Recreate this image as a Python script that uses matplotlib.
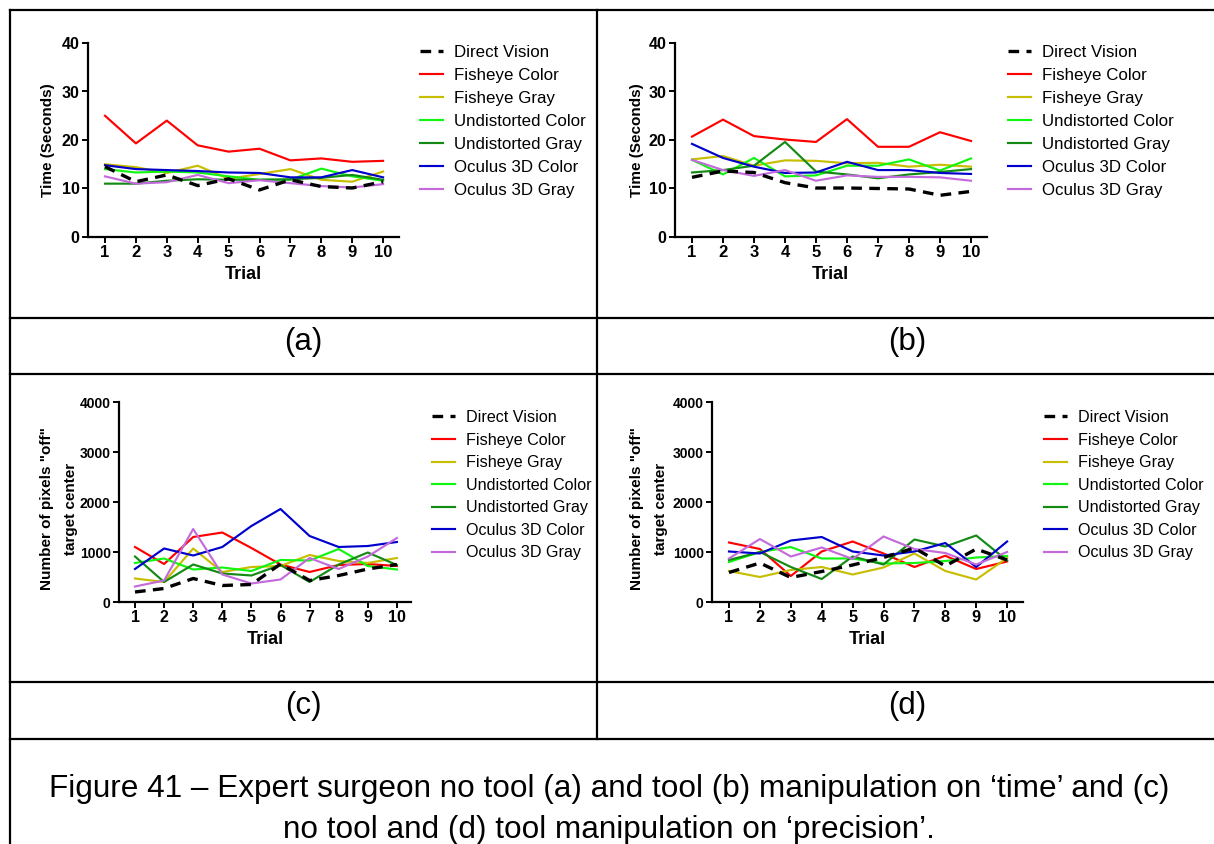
import matplotlib
matplotlib.use("Agg")
import matplotlib.pyplot as plt
from matplotlib.lines import Line2D

plt.rcParams['font.family'] = ['Liberation Sans', 'DejaVu Sans']

trials = [1, 2, 3, 4, 5, 6, 7, 8, 9, 10]
series_names = ["Direct Vision", "Fisheye Color", "Fisheye Gray", "Undistorted Color",
                "Undistorted Gray", "Oculus 3D Color", "Oculus 3D Gray"]

# (a) time, no tool
a_direct = [14.5, 11.4, 12.8, 10.6, 12.0, 9.7, 11.8, 10.4, 10.1, 11.4]
a_fish_color = [25.0, 19.3, 24.0, 18.9, 17.6, 18.2, 15.8, 16.2, 15.5, 15.7]
a_fish_gray = [15.0, 14.4, 13.2, 14.7, 12.0, 13.0, 14.0, 11.8, 11.4, 13.5]
a_und_color = [14.0, 13.3, 13.5, 13.3, 12.5, 11.8, 11.8, 14.1, 12.5, 11.6]
a_und_gray = [11.0, 11.0, 11.6, 11.9, 11.8, 11.8, 11.9, 12.2, 12.8, 11.8]
a_ocu_color = [14.8, 14.0, 13.8, 13.6, 13.3, 13.2, 12.3, 12.3, 13.8, 12.3]
a_ocu_gray = [12.5, 11.0, 11.3, 12.8, 11.1, 11.7, 11.1, 10.5, 10.2, 10.9]

# (b) time, tool
b_direct = [12.3, 13.6, 13.3, 11.2, 10.1, 10.1, 10.0, 9.9, 8.6, 9.4]
b_fish_color = [20.7, 24.2, 20.8, 20.1, 19.6, 24.3, 18.6, 18.6, 21.6, 19.8]
b_fish_gray = [16.0, 16.7, 14.7, 15.8, 15.7, 15.2, 15.3, 14.5, 14.9, 14.5]
b_und_color = [15.9, 12.9, 16.3, 12.5, 12.7, 14.7, 14.7, 16.0, 13.7, 16.2]
b_und_gray = [13.3, 13.8, 14.7, 19.6, 13.5, 12.9, 12.1, 12.9, 13.4, 14.0]
b_ocu_color = [19.2, 16.3, 14.5, 13.2, 13.3, 15.5, 13.8, 13.8, 13.2, 13.0]
b_ocu_gray = [15.9, 13.8, 12.6, 13.8, 11.6, 12.7, 12.4, 12.4, 12.3, 11.6]

# (c) precision, no tool
c_direct = [200, 270, 470, 330, 350, 760, 430, 530, 660, 750]
c_fish_color = [1100, 760, 1300, 1390, 1080, 750, 600, 740, 760, 720]
c_fish_gray = [470, 400, 1070, 600, 700, 720, 940, 820, 780, 880]
c_und_color = [780, 870, 650, 690, 620, 840, 830, 1060, 720, 650]
c_und_gray = [910, 400, 750, 570, 530, 740, 400, 750, 990, 740]
c_ocu_color = [660, 1070, 930, 1100, 1520, 1860, 1320, 1100, 1120, 1200]
c_ocu_gray = [310, 430, 1460, 550, 370, 450, 880, 660, 910, 1280]

# (d) precision, tool
d_direct = [590, 780, 490, 610, 740, 890, 1080, 720, 1060, 840]
d_fish_color = [1190, 1060, 520, 1010, 1210, 970, 700, 925, 660, 810]
d_fish_gray = [620, 500, 640, 700, 550, 690, 970, 620, 450, 880]
d_und_color = [800, 1000, 1100, 870, 870, 770, 780, 820, 890, 920]
d_und_gray = [840, 1000, 700, 460, 910, 750, 1250, 1110, 1330, 830]
d_ocu_color = [1010, 970, 1230, 1300, 1010, 930, 1010, 1180, 700, 1210]
d_ocu_gray = [870, 1260, 910, 1090, 860, 1310, 1060, 980, 750, 1000]

time_ticks = [0, 10, 20, 30, 40]
pix_ticks = [0, 1000, 2000, 3000, 4000]
panel_labels = ["(a)", "(b)", "(c)", "(d)"]
caption_lines = ["Figure 41 \u2013 Expert surgeon no tool (a) and tool (b) manipulation on \u2018time\u2019 and (c)",
                 "no tool and (d) tool manipulation on \u2018precision\u2019."]

colors = ["black", "#FF0000", "#C8BE00", "#11F511", "#138A13", "#0000CC", "#C46BDC"]

W, H = 1214, 844
fig = plt.figure(figsize=(W / 100, H / 100), dpi=100)


def fx(px):
    return px / W


def fy(py):
    return 1 - py / H


def make_panel(left, tick_sp, top, bottom, data, ylim, yticks, ylabel, leg_x, leg_y,
               ylab_xy, ylinesp, ytick_size, xtick_size, leg_size):
    x0 = left - 0.55 * tick_sp
    width = 10.05 * tick_sp
    ax = fig.add_axes([fx(x0), fy(bottom), width / W, (bottom - top) / H])
    order = [1, 2, 3, 4, 5, 6, 0]
    handles = [None] * 7
    for i in order:
        if i == 0:
            h, = ax.plot(trials, data[i], color=colors[i], lw=2.4, ls=(0, (3.2, 2.2)), zorder=5,
                         label=series_names[i])
        else:
            h, = ax.plot(trials, data[i], color=colors[i], lw=1.55, zorder=3, label=series_names[i])
        handles[i] = h
    ax.set_xlim(0.45, 10.5)
    ax.set_ylim(*ylim)
    ax.set_xticks(trials)
    ax.set_yticks(yticks)
    ax.spines['top'].set_visible(False)
    ax.spines['right'].set_visible(False)
    for s in ['left', 'bottom']:
        ax.spines[s].set_linewidth(1.6)
    ax.tick_params(direction='out', width=1.4, length=4, pad=2)
    ax.tick_params(axis='x', labelsize=xtick_size)
    ax.tick_params(axis='y', labelsize=ytick_size)
    for lab in ax.get_xticklabels() + ax.get_yticklabels():
        lab.set_fontweight('bold')
    ax.set_xlabel("Trial", fontsize=13, fontweight='bold', labelpad=4)
    fig.text(fx(ylab_xy[0]), fy(ylab_xy[1]), ylabel, rotation=90, ha='center', va='center',
             multialignment='center', fontsize=11, fontweight='bold', linespacing=ylinesp)
    fig.legend(handles=handles, labels=series_names, loc='upper left',
               bbox_to_anchor=(fx(leg_x), fy(leg_y)), frameon=False, fontsize=leg_size,
               handlelength=23 / (leg_size * 100 / 72), handletextpad=11 / (leg_size * 100 / 72),
               labelspacing=0.47, borderpad=0, borderaxespad=0)
    return ax


make_panel(105, 30.9, 43, 237,
           [a_direct, a_fish_color, a_fish_gray, a_und_color, a_und_gray, a_ocu_color, a_ocu_gray],
           (0, 40), time_ticks, "Time (Seconds)", 420, 45, (48, 140), 1.0, 11.5, 12, 12.2)
make_panel(692, 31.0, 43, 237,
           [b_direct, b_fish_color, b_fish_gray, b_und_color, b_und_gray, b_ocu_color, b_ocu_gray],
           (0, 40), time_ticks, "Time (Seconds)", 1008, 45, (637, 140), 1.0, 11.5, 12, 12.2)
make_panel(135, 29.1, 402, 602,
           [c_direct, c_fish_color, c_fish_gray, c_und_color, c_und_gray, c_ocu_color, c_ocu_gray],
           (0, 4000), pix_ticks, 'Number of pixels "off"\ntarget center', 432, 410,
           (59, 509), 1.95, 10.0, 11.5, 11.6)
make_panel(729, 30.9, 402, 602,
           [d_direct, d_fish_color, d_fish_gray, d_und_color, d_und_gray, d_ocu_color, d_ocu_gray],
           (0, 4000), pix_ticks, 'Number of pixels "off"\ntarget center', 1044, 410,
           (649, 509), 1.95, 10.0, 11.8, 11.6)

# table grid
lw = 1.6
def hline(y, x0=10, x1=W):
    fig.add_artist(Line2D([fx(x0), fx(x1)], [fy(y), fy(y)], color='black', lw=lw))

def vline(x, y0, y1):
    fig.add_artist(Line2D([fx(x), fx(x)], [fy(y0), fy(y1)], color='black', lw=lw))

hline(10)
hline(318)
hline(374)
hline(682)
hline(739)
vline(10, 10, H)
vline(597, 10, 739)

# panel labels
for lab, (x, y) in zip(panel_labels, [(303, 342), (907, 342), (303, 706), (907, 706)]):
    fig.text(fx(x), fy(y), lab, ha='center', va='center', fontsize=22.5)

fig.text(fx(609), fy(789), caption_lines[0], ha='center', va='center', fontsize=22.7)
fig.text(fx(609), fy(830), caption_lines[1], ha='center', va='center', fontsize=22.7)

fig.savefig("out.png", dpi=100)
